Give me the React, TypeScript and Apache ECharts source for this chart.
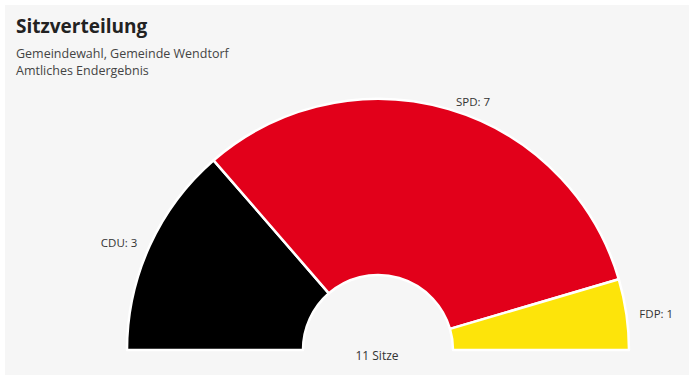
import React, { useEffect, useRef } from "react";
import * as echarts from "echarts";

const parties = ["CDU", "SPD", "FDP"];
const seats = [3, 7, 1];
const colors = ["#000000", "#e2001a", "#fde40a"];
const titleText = "Sitzverteilung";
const subtitleLines = ["Gemeindewahl, Gemeinde Wendtorf", "Amtliches Endergebnis"];
const totalLabel = `${seats.reduce((a, b) => a + b, 0)} Sitze`;

const FONT = "'Open Sans', 'Noto Sans', sans-serif";

export default function App() {
  const ref = useRef<HTMLDivElement>(null);
  useEffect(() => {
    document.body.style.margin = "0";
    const chart = echarts.init(ref.current!, null, { renderer: "svg" });
    chart.setOption({
      animation: false,
      backgroundColor: "#ffffff",
      graphic: [
        {
          type: "rect",
          z: -10,
          shape: { x: 5, y: 5, width: 684, height: 370 },
          style: { fill: "#f6f6f6" },
        },
        {
          type: "text",
          left: 16,
          top: 16,
          style: {
            text: titleText,
            font: `bold 19px ${FONT}`,
            fill: "#222222",
          },
        },
        {
          type: "text",
          left: 16,
          top: 45,
          style: {
            text: subtitleLines.join("\n"),
            font: `12.5px ${FONT}`,
            lineHeight: 17,
            fill: "#444444",
          },
        },
        {
          type: "text",
          x: 377,
          y: 355,
          style: {
            text: totalLabel,
            font: `12px ${FONT}`,
            fill: "#333333",
            align: "center",
            verticalAlign: "middle",
          },
        },
      ],
      series: [
        {
          type: "pie",
          center: [378, 350],
          radius: [75, 251],
          startAngle: 180,
          endAngle: 0,
          clockwise: true,
          avoidLabelOverlap: false,
          itemStyle: { borderColor: "#ffffff", borderWidth: 2.5 },
          label: {
            show: true,
            position: "outside",
            formatter: "{b}: {c}",
            fontFamily: FONT,
            fontSize: 11.5,
            color: "#333333",
          },
          labelLine: { show: false, length: 8, length2: 0 },
          emphasis: { disabled: true },
          data: parties.map((p, i) => ({
            name: p,
            value: seats[i],
            itemStyle: { color: colors[i] },
          })),
        },
      ],
    });
    return () => chart.dispose();
  }, []);
  return <div ref={ref} style={{ width: 694, height: 380 }} />;
}
